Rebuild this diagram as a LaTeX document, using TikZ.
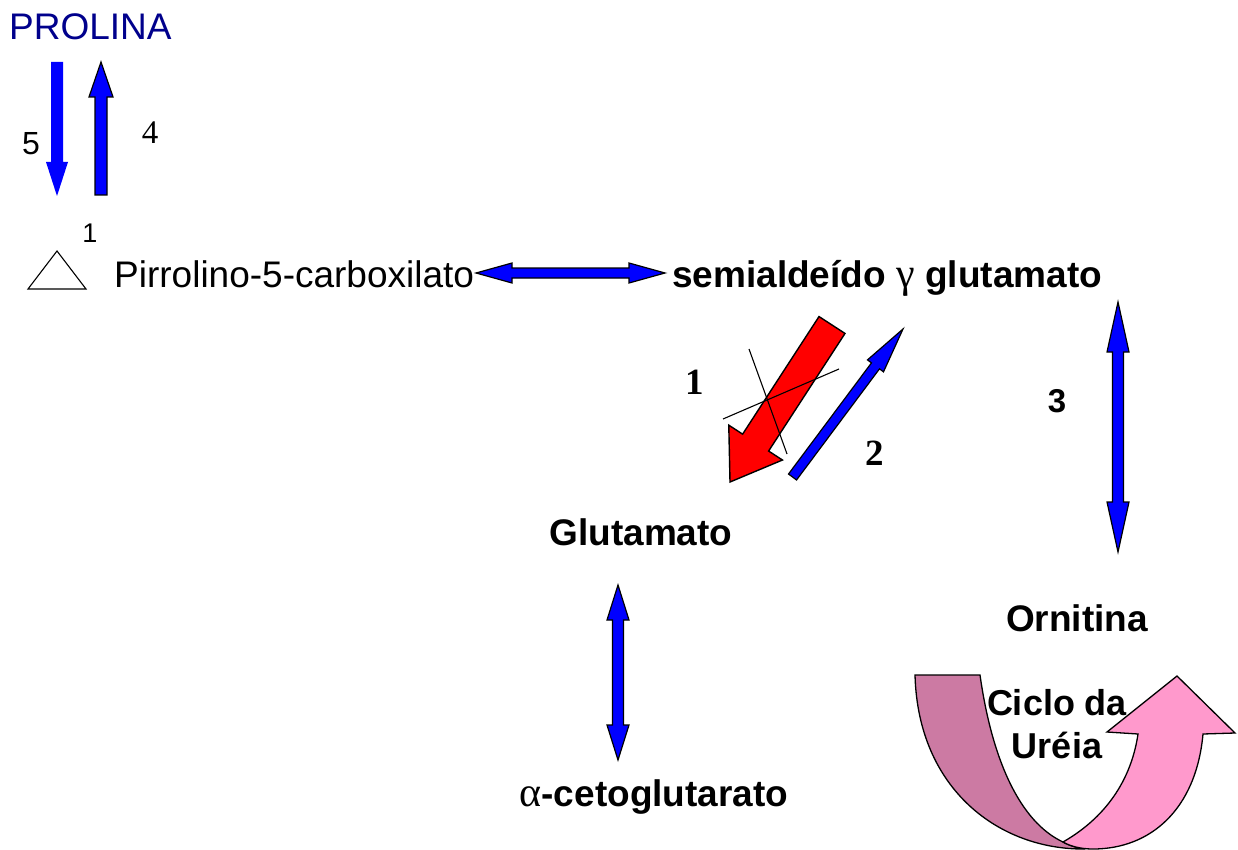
\documentclass[tikz,border=0pt]{standalone}
\usepackage{fontspec}
\setmainfont{Liberation Sans}
\newfontfamily\serifgr{Liberation Serif}
\usetikzlibrary{calc}
\definecolor{arrblue}{RGB}{0,0,255}
\definecolor{navy}{RGB}{0,0,140}
\definecolor{arrred}{RGB}{255,0,0}
\definecolor{pinkdark}{RGB}{204,122,163}
\definecolor{pinklight}{RGB}{255,153,204}
\tikzset{
  lbl/.style={inner sep=0pt, font=\fontsize{37}{44}\selectfont},
  blbl/.style={inner sep=0pt, font=\fontsize{37}{44}\selectfont\bfseries},
  num/.style={inner sep=0pt, font=\fontsize{32}{38}\selectfont},
  blockblue/.style={fill=arrblue, draw=black, line width=1.2pt, line join=miter},
  blockred/.style={fill=arrred, draw=black, line width=1.4pt, line join=miter},
  thinline/.style={draw=black, line width=1.1pt},
  band/.style={draw=black, line width=1.3pt}
}
\newcommand{\grk}[1]{{\serifgr\mdseries\fontsize{42}{44}\selectfont #1}}
% single block arrow: style, tail, tip, shaft half-width, head half-width, head length
\newcommand{\sarrow}[6]{%
  \path[#1] ($(#2)!#4!90:(#3)$)
    -- ($(#3)!#6!(#2)!#4!-90:(#2)$)
    -- ($(#3)!#6!(#2)!#5!-90:(#2)$)
    -- (#3)
    -- ($(#3)!#6!(#2)!#5!90:(#2)$)
    -- ($(#3)!#6!(#2)!#4!90:(#2)$)
    -- ($(#2)!#4!-90:(#3)$) -- cycle;}
% double block arrow
\newcommand{\darrow}[6]{%
  \path[#1] (#2)
    -- ($(#2)!#6!(#3)!#5!90:(#3)$)
    -- ($(#2)!#6!(#3)!#4!90:(#3)$)
    -- ($(#3)!#6!(#2)!#4!-90:(#2)$)
    -- ($(#3)!#6!(#2)!#5!-90:(#2)$)
    -- (#3)
    -- ($(#3)!#6!(#2)!#5!90:(#2)$)
    -- ($(#3)!#6!(#2)!#4!90:(#2)$)
    -- ($(#2)!#6!(#3)!#4!-90:(#3)$)
    -- ($(#2)!#6!(#3)!#5!-90:(#3)$) -- cycle;}
\begin{document}
\begin{tikzpicture}[x=1pt,y=-1pt]
\useasboundingbox (0,0) rectangle (1238,850);
% texts
\node[lbl, text=navy, anchor=base west] (prolina) at (9,40) {PROLINA};
\node[num, anchor=base] (n5) at (31,155) {5};
\node[num, anchor=base, font=\serifgr\fontsize{33}{38}\selectfont] (n4) at (150,144) {4};
\node[num, anchor=base, font=\fontsize{27}{32}\selectfont] (n1a) at (90,243) {1};
\node[lbl, anchor=base west] (pirr) at (114,287) {Pirrolino-5-carboxilato};
\node[blbl, anchor=base west] (semi) at (672,287) {semialdeído \grk{γ} glutamato};
\node[blbl, anchor=base, font=\serifgr\bfseries\fontsize{37}{44}\selectfont] (n1b) at (695,394) {1};
\node[blbl, anchor=base, font=\serifgr\bfseries\fontsize{37}{44}\selectfont] (n2) at (875,465) {2};
\node[blbl, anchor=base, font=\bfseries\fontsize{33}{40}\selectfont] (n3) at (1057,412) {3};
\node[blbl, anchor=base] (glu) at (641,545) {Glutamato};
\node[blbl, anchor=base] (orn) at (1077,631) {Ornitina};
\node[blbl, anchor=base] (akg) at (654,806) {\grk{α}-cetoglutarato};
% triangle
\coordinate (tA) at (28,289);
\coordinate (tB) at (86,289);
\coordinate (tC) at (57,251);
\draw[line width=1.1pt, line join=miter] (tA) -- (tB) -- (tC) -- cycle;
% arrow 5 and 4
\coordinate (a5s) at (57,62);
\coordinate (a5e) at (57,196);
\sarrow{fill=arrblue}{a5s}{a5e}{6pt}{11pt}{34pt}
\coordinate (a4s) at (101,195);
\coordinate (a4e) at (101,62);
\sarrow{blockblue}{a4s}{a4e}{6pt}{12pt}{35pt}
% horizontal double arrow
\coordinate (hL) at (476,273);
\coordinate (hR) at (665,273);
\darrow{blockblue}{hL}{hR}{5pt}{10pt}{36pt}
% red arrow 1
\coordinate (rS) at (832,325);
\coordinate (rE) at (730,482);
\sarrow{blockred}{rS}{rE}{15.5pt}{32pt}{47pt}
% crossing lines
\coordinate (c1a) at (749,349);
\coordinate (c1b) at (787,454);
\coordinate (c2a) at (723,419);
\coordinate (c2b) at (839,369);
\draw[thinline] (c1a) -- (c1b);
\draw[thinline] (c2a) -- (c2b);
% blue arrow 2
\coordinate (bS) at (792.5,477);
\coordinate (bE) at (903,329);
\sarrow{blockblue}{bS}{bE}{5pt}{10pt}{46pt}
% vertical double arrow 3
\coordinate (vT) at (1118,302);
\coordinate (vB) at (1118,552);
\darrow{blockblue}{vT}{vB}{5.5pt}{11pt}{50pt}
% glutamato double arrow
\coordinate (gT) at (618,585);
\coordinate (gB) at (618,760);
\darrow{blockblue}{gT}{gB}{5.5pt}{11pt}{35pt}
% urea cycle arrow
\coordinate (u1) at (915,675);
\coordinate (u2) at (980,675);
\coordinate (u3) at (1085,849);
\path[band, fill=pinkdark] (u1) -- (u2)
  .. controls (992,760) and (1020,822) .. (1063,842)
  .. controls (1070,846) and (1078,848) .. (u3)
  .. controls (1000,850) and (918,790) .. (u1) -- cycle;
\coordinate (w1) at (1063,842);
\coordinate (w2) at (1138,734);
\coordinate (w3) at (1107,732);
\coordinate (w4) at (1177,676);
\coordinate (w5) at (1235,733);
\coordinate (w6) at (1203,734);
\path[band, fill=pinklight] (w1)
  .. controls (1110,815) and (1132,775) .. (w2)
  -- (w3) -- (w4) -- (w5) -- (w6)
  .. controls (1196,810) and (1150,849) .. (1093,849)
  .. controls (1080,849) and (1070,846) .. (w1) -- cycle;
\node[blbl, align=center, font=\bfseries\fontsize{36}{43}\selectfont] (ciclo) at (1057,724) {Ciclo da\\Uréia};
\end{tikzpicture}
\end{document}
